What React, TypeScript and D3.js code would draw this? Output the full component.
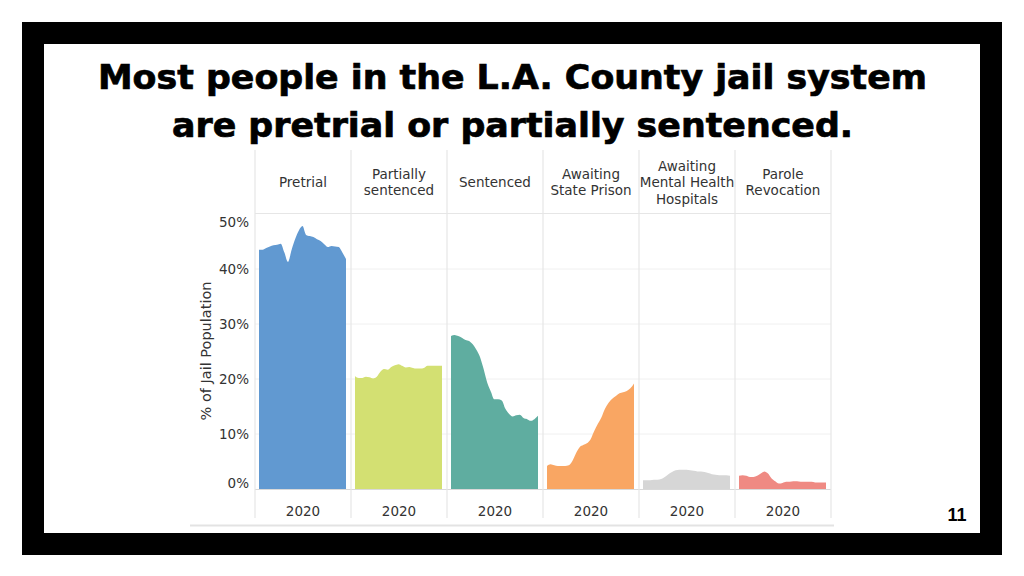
import React from "react";
import * as d3 from "d3";

const categories = [
  "Pretrial",
  "Partially\nsentenced",
  "Sentenced",
  "Awaiting\nState Prison",
  "Awaiting\nMental Health\nHospitals",
  "Parole\nRevocation",
];
const colors = ["#6199d1", "#d3e072", "#5fada0", "#f9a663", "#d6d6d6", "#ef8a83"];
const yearLabel = "2020";
const yTicks = [0, 10, 20, 30, 40, 50];

const pretrial = [43.5, 43.5, 43.8, 44.1, 44.3, 44.4, 44.6, 43.0, 41.3, 43.5, 45.5, 47.0, 47.8, 46.2, 46.0, 45.8, 45.4, 45.1, 44.5, 44.0, 44.2, 44.1, 44.0, 43.0, 41.8];
const partiallySentenced = [20.5, 20.2, 20.2, 20.4, 20.3, 20.1, 20.4, 21.3, 21.8, 21.7, 22.2, 22.5, 22.7, 22.4, 22.1, 22.2, 22.0, 21.9, 21.9, 22.0, 22.4, 22.4, 22.4, 22.4, 22.4];
const sentenced = [27.8, 28.0, 27.8, 27.5, 27.1, 26.9, 26.3, 25.3, 24.0, 21.8, 19.3, 17.7, 16.3, 16.3, 16.1, 14.6, 13.7, 13.2, 13.4, 13.5, 12.9, 12.7, 12.4, 12.7, 13.3];
const awaitingStatePrison = [4.2, 4.5, 4.3, 4.2, 4.2, 4.2, 4.3, 5.1, 6.5, 7.6, 8.0, 8.3, 9.0, 10.5, 11.8, 13.0, 14.6, 15.7, 16.4, 16.9, 17.4, 17.6, 17.8, 18.3, 19.2];
const awaitingMentalHealth = [1.6, 1.6, 1.6, 1.7, 1.7, 1.8, 2.2, 2.7, 3.1, 3.4, 3.5, 3.5, 3.5, 3.4, 3.3, 3.2, 3.2, 3.1, 2.9, 2.7, 2.6, 2.5, 2.5, 2.5, 2.4];
const paroleRevocation = [2.4, 2.5, 2.4, 2.2, 2.2, 2.4, 2.8, 3.2, 2.8, 1.9, 1.4, 1.0, 1.1, 1.3, 1.3, 1.4, 1.4, 1.3, 1.3, 1.3, 1.3, 1.2, 1.2, 1.2, 1.2];

const series = [pretrial, partiallySentenced, sentenced, awaitingStatePrison, awaitingMentalHealth, paroleRevocation];

export default function App() {
  const W = 1024, H = 576;
  const plotLeft = 255, plotRight = 831;
  const plotTop = 214, plotBottom = 489;
  const headerTop = 150, axisBottom = 518;

  const panel = d3.scaleBand<number>().domain(d3.range(categories.length)).range([plotLeft, plotRight]);
  const y = d3.scaleLinear().domain([0, 50]).range([plotBottom, plotTop]);
  const bw = panel.bandwidth();
  const grid = "#e6e6e6";
  const font = "'DejaVu Sans', Verdana, sans-serif";
  const fs = 13.5;

  return (
    <svg width={W} height={H} style={{ position: "absolute", left: 0, top: 0, background: "#fff" }}>
      {/* frame */}
      <rect x={0} y={0} width={W} height={H} fill="#fff" />
      <rect x={33} y={33} width={958} height={511} fill="none" stroke="#000" strokeWidth={22} />

      {/* title */}
      <g fontFamily="'DejaVu Sans', 'Liberation Sans', sans-serif" fontWeight={700} fontSize={33} fill="#000" stroke="#000" strokeWidth={0.7} textAnchor="middle" style={{ fontVariantLigatures: "none" }}>
        <text x={512.5} y={89} textLength={829} lengthAdjust="spacingAndGlyphs">Most people in the L.A. County jail system</text>
        <text x={512.5} y={137} textLength={681} lengthAdjust="spacingAndGlyphs">are pretrial or partially sentenced.</text>
      </g>

      {/* gridlines */}
      {yTicks.filter((t) => t > 0 && t < 50).map((t) => (
        <line key={t} x1={plotLeft} x2={plotRight} y1={y(t)} y2={y(t)} stroke="#f0f0f0" strokeWidth={1} />
      ))}
      <line x1={plotLeft} x2={plotRight} y1={y(50) - 0.5} y2={y(50) - 0.5} stroke={grid} />

      {/* areas */}
      {series.map((vals, i) => {
        const x0 = (panel(i) as number) + 4;
        const x1 = (panel(i) as number) + bw - 5;
        const xs = d3.scaleLinear().domain([0, vals.length - 1]).range([x0, x1]);
        const area = d3.area<number>().x((_, j) => xs(j)).y0(y(0)).y1((d) => y(d)).curve(d3.curveMonotoneX);
        return <path key={i} d={area(vals) || ""} fill={colors[i]} />;
      })}

      {/* baseline */}
      <line x1={plotLeft} x2={plotRight} y1={plotBottom + 0.5} y2={plotBottom + 0.5} stroke="#d9d9d9" />

      {/* panel dividers */}
      {d3.range(categories.length + 1).map((i) => {
        const x = plotLeft + i * bw;
        return <line key={i} x1={x} x2={x} y1={headerTop} y2={axisBottom} stroke={grid} strokeWidth={1.2} />;
      })}

      {/* headers */}
      {categories.map((c, i) => {
        const lines = c.split("\n");
        const cx = (panel(i) as number) + bw / 2;
        const lh = 16.5;
        const cy = 182;
        return (
          <text key={i} x={cx} fontFamily={font} fontSize={fs} fill="#333" textAnchor="middle" dominantBaseline="central">
            {lines.map((l, k) => (
              <tspan key={k} x={cx} y={cy + (k - (lines.length - 1) / 2) * lh}>{l}</tspan>
            ))}
          </text>
        );
      })}

      {/* x labels */}
      {categories.map((_, i) => (
        <text key={i} x={(panel(i) as number) + bw / 2} y={511} fontFamily={font} fontSize={fs} fill="#333" textAnchor="middle" dominantBaseline="central">
          {yearLabel}
        </text>
      ))}

      {/* y labels */}
      {yTicks.map((t) => (
        <text key={t} x={249} y={t === 50 ? y(t) + 8 : t === 0 ? y(t) - 6 : y(t)} fontFamily={font} fontSize={fs} fill="#333" textAnchor="end" dominantBaseline="central">
          {t}%
        </text>
      ))}
      <text transform="translate(206,351) rotate(-90)" fontFamily={font} fontSize={14.5} fill="#333" textAnchor="middle" dominantBaseline="central">
        % of Jail Population
      </text>

      {/* bottom line */}
      <line x1={190} x2={834} y1={525.5} y2={525.5} stroke="#e3e3e3" strokeWidth={2} />

      {/* page number */}
      <text x={957} y={521} fontFamily="'Liberation Sans', Arial, sans-serif" fontWeight={700} fontSize={18} textAnchor="middle" fill="#000">11</text>
    </svg>
  );
}
